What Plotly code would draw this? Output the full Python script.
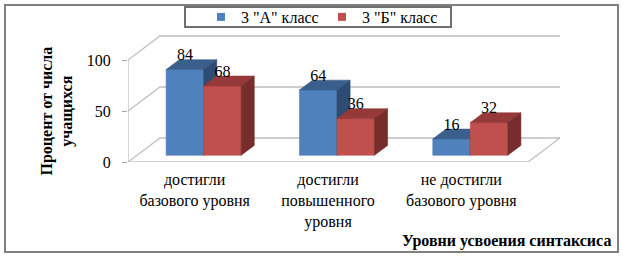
import plotly.graph_objects as go

# ---------------- data ----------------
categories = ["достигли<br>базового уровня",
              "достигли<br>повышенного<br>уровня",
              "не достигли<br>базового уровня"]
series_a = [84, 64, 16]
series_b = [68, 36, 32]
series_names = ['3 "А" класс', '3 "Б" класс']
y_ticks = [0, 50, 100]
y_title = "Процент от числа<br>учащихся"
x_title = "Уровни усвоения синтаксиса"

# ---------------- geometry / style ----------------
W, H = 623, 258
L, R, T, B = 128, 63, 35, 96
plot_w = W - L - R
plot_h = H - T - B
cat_px = 400 / 3.0          # px per category on the front plane
Y_PX = 1.02                 # px per value unit
DX = 32 / cat_px            # full depth offset (x units)
DY = 24 / Y_PX              # full depth offset (y units)
F1, F2 = 0.28, 0.69         # bar front / back depth fractions
BW = 37.5 / cat_px          # bar width (x units)
LABEL_DROP = 4.5 / Y_PX     # data label nudge
x0, x1 = -0.5, len(categories) - 0.5
FONT = "'Liberation Serif', 'Times New Roman', Times, serif"
LINE = "#BFBFBF"


def px_x(p):
    return (p - L) / plot_w


def px_y(p):
    return (H - B - p) / plot_h


colors = {
    "a": ("#4F81BD", "#3B5F8C", "#2E4B73"),
    "b": ("#C0504D", "#953A38", "#772D2B"),
}

fig = go.Figure()

# walls / floor / gridlines from tick values
wx, wy = [], []
top = max(y_ticks)
for v in y_ticks:
    wx += [x0, x0 + DX, x1 + DX, None]
    wy += [v, v + DY, v + DY, None]
wx += [x0, x1, x1 + DX, None, x0, x0, None]
wy += [0, 0, DY, None, 0, top, None]
fig.add_trace(go.Scatter(x=wx, y=wy, mode="lines", line=dict(color=LINE, width=1.3),
                         hoverinfo="skip", showlegend=False))


def faces(values, left):
    fx, tx, sx = [], [], []
    fy, ty, sy = [], [], []
    lx, ly = [], []
    b = F1 * DY
    ddx, ddy = (F2 - F1) * DX, (F2 - F1) * DY
    for i, v in enumerate(values):
        c = i + F1 * DX
        xl, xr = (c - BW, c) if left else (c, c + BW)
        fx += [xl, xr, xr, xl, xl, None]
        fy += [b, b, b + v, b + v, b, None]
        tx += [xl, xr, xr + ddx, xl + ddx, xl, None]
        ty += [b + v, b + v, b + v + ddy, b + v + ddy, b + v, None]
        sx += [xr, xr + ddx, xr + ddx, xr, xr, None]
        sy += [b, b + ddy, b + v + ddy, b + v, b, None]
        lx.append((xl + xr) / 2)
        ly.append(b + v + ddy - LABEL_DROP)
    return (fx, fy), (tx, ty), (sx, sy), (lx, ly)


label_traces = []
for key, vals, left in (("a", series_a, True), ("b", series_b, False)):
    parts = faces(vals, left)
    for (px, py), col in zip(parts[:3], colors[key]):
        fig.add_trace(go.Scatter(x=px, y=py, mode="lines", fill="toself", fillcolor=col,
                                 line=dict(width=0.6, color=col), hoverinfo="skip",
                                 showlegend=False))
    lx, ly = parts[3]
    label_traces.append(go.Scatter(x=lx, y=ly, mode="text", text=[str(v) for v in vals],
                                   textposition="top center",
                                   textfont=dict(family=FONT, size=16, color="black"),
                                   hoverinfo="skip", showlegend=False))
for t in label_traces:
    fig.add_trace(t)

# legend entries
for name, key in zip(series_names, ("a", "b")):
    fig.add_trace(go.Scatter(x=[None], y=[None], mode="markers", name=name,
                             marker=dict(symbol="square", size=8, color=colors[key][0])))

fig.update_layout(
    width=W, height=H,
    margin=dict(l=L, r=R, t=T, b=B, autoexpand=False),
    paper_bgcolor="white", plot_bgcolor="white",
    font=dict(family=FONT, size=16, color="black"),
    hovermode=False,
    showlegend=True,
    legend=dict(orientation="h", xref="container", yref="container",
                x=201 / W, xanchor="left", y=1 - 17 / H, yanchor="middle",
                borderwidth=0, bgcolor="rgba(0,0,0,0)",
                font=dict(family=FONT, size=16, color="black"),
                itemwidth=30, entrywidth=76, tracegroupgap=0),
    xaxis=dict(range=[x0, x1 + DX], tickvals=list(range(len(categories))),
               ticktext=categories, ticks="", showgrid=False, zeroline=False,
               showline=False, ticklabelstandoff=6,
               tickfont=dict(family=FONT, size=16, color="black"), fixedrange=True),
    yaxis=dict(range=[0, plot_h / Y_PX], tickvals=y_ticks, ticks="outside", ticklen=5,
               tickcolor="#A6A6A6", tickwidth=1.3, showgrid=False, zeroline=False,
               showline=False, ticklabelstandoff=8,
               tickfont=dict(family=FONT, size=16, color="black"), fixedrange=True),
    annotations=[
        dict(text="<b>" + y_title + "</b>", xref="paper", yref="paper",
             x=px_x(56.5), y=px_y(111), xanchor="center",
             yanchor="middle", textangle=-90, showarrow=False,
             font=dict(family=FONT, size=16, color="black")),
        dict(text="<b>" + x_title + "</b>", xref="paper", yref="paper",
             x=px_x(613), y=px_y(241), xanchor="right",
             yanchor="middle", showarrow=False,
             font=dict(family=FONT, size=16, color="black")),
    ],
    shapes=[
        dict(type="rect", xref="paper", yref="paper",
             x0=px_x(5), x1=px_x(618), y0=px_y(252), y1=px_y(5),
             line=dict(color="#7F7F7F", width=2), layer="below"),
        dict(type="rect", xref="paper", yref="paper",
             x0=px_x(185), x1=px_x(451), y0=px_y(27), y1=px_y(7),
             line=dict(color="#6F6F6F", width=2), layer="below"),
    ],
)

fig.write_html("out.html")
